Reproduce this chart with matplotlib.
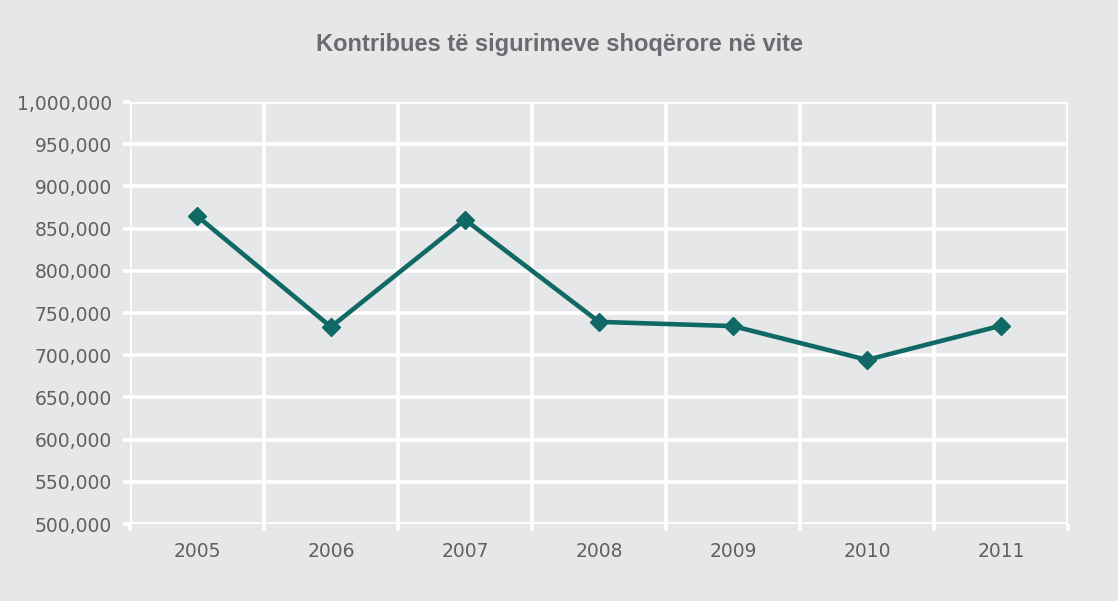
import matplotlib
matplotlib.use("Agg")
import matplotlib.pyplot as plt
from matplotlib.ticker import FuncFormatter, FixedLocator

years = ["2005", "2006", "2007", "2008", "2009", "2010", "2011"]
contributors = [865000, 733500, 860500, 739500, 734500, 694500, 735000]

bg = "#E6E7E8"
teal = "#116966"
txt = "#606060"

fig = plt.figure(figsize=(11.18, 6.01), dpi=100, facecolor=bg)
ax = fig.add_axes([130/1118, 1-524/601, 938/1118, 422/601], facecolor=bg)

x = list(range(len(years)))
ax.plot(x, contributors, color=teal, lw=3.3, marker="D", ms=9.5, zorder=3, clip_on=False)

ax.set_xlim(-0.5, len(years) - 0.5)
ax.set_ylim(500000, 1000000)
ax.set_yticks(range(500000, 1000001, 50000))
ax.yaxis.set_major_formatter(FuncFormatter(lambda v, p: f"{int(v):,}"))
ax.set_xticks(x)
ax.set_xticklabels(years)
ax.xaxis.set_minor_locator(FixedLocator([i - 0.5 for i in range(len(years) + 1)]))

for s in ax.spines.values():
    s.set_visible(False)
ax.grid(axis="y", which="major", color="white", lw=2.6)
ax.grid(axis="x", which="minor", color="white", lw=2.6)
ax.tick_params(axis="x", which="major", length=0, pad=13, labelsize=13.5, labelcolor=txt)
ax.tick_params(axis="x", which="minor", length=5, width=2.6, color="white")
ax.tick_params(axis="y", length=5, width=2.6, color="white", pad=8, labelsize=13.5, labelcolor=txt)
ax.set_axisbelow(True)

fig.text(0.5, 1 - 44/601, "Kontribues të sigurimeve shoqërore në vite", ha="center", va="center",
         fontsize=17, fontweight="bold", color="#6a6b6e", family="Liberation Sans")

fig.savefig("out.png", dpi=100, facecolor=bg)
